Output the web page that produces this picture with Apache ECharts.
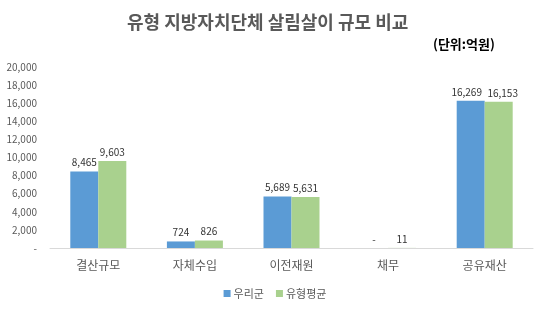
<!DOCTYPE html>
<html><head><meta charset="utf-8">
<script src="https://cdn.jsdelivr.net/npm/echarts@6/dist/echarts.min.js"></script>
<style>html,body{margin:0;padding:0;background:#fff}#c{width:550px;height:311px}</style>
</head><body><div id="c"></div>
<script>
const categories = ['결산규모', '자체수입', '이전재원', '채무', '공유재산'];
const ourCounty = [8465, 724, 5689, 0, 16269];
const typeAverage = [9603, 826, 5631, 11, 16153];
const seriesNames = ['우리군', '유형평균'];
const yTicks = { min: 0, max: 20000, interval: 2000 };

const font = '"Noto Sans CJK KR", "Noto Sans", sans-serif';
const fmt = v => v === 0 ? '-' : v.toLocaleString('en-US');

function withOffsets(values, lastShift) {
  return values.map((v, i) => ({
    value: v,
    label: { offset: [i === values.length - 1 ? lastShift : 0, 0] }
  }));
}

const chart = echarts.init(document.getElementById('c'));
chart.setOption({
  animation: false,
  textStyle: { fontFamily: font },
  title: [
    { text: '유형 지방자치단체 살림살이 규모 비교', left: 122, top: 8,
      textStyle: { fontSize: 18, fontWeight: 'bold', color: '#595959', fontFamily: font } },
    { text: '(단위:억원)', left: 428, top: 33,
      textStyle: { fontSize: 13, fontWeight: 'bold', color: '#000', fontFamily: font } }
  ],
  legend: {
    bottom: 7, left: 'center', itemWidth: 7, itemHeight: 7, itemGap: 12,
    icon: 'rect',
    textStyle: { fontSize: 11, color: '#595959', fontFamily: font, padding: [0, 0, 0, -2] },
    data: seriesNames
  },
  grid: { left: 50, right: 17, top: 67, bottom: 63, containLabel: false },
  xAxis: {
    type: 'category', data: categories,
    axisLine: { lineStyle: { color: '#D9D9D9', width: 1 } },
    axisTick: { show: false },
    axisLabel: { fontSize: 12, color: '#595959', margin: 11, fontFamily: font }
  },
  yAxis: {
    type: 'value', min: yTicks.min, max: yTicks.max, interval: yTicks.interval,
    axisLine: { show: false }, axisTick: { show: false },
    splitLine: { show: false },
    axisLabel: { fontSize: 10, color: '#595959', margin: 13, formatter: fmt, fontFamily: font }
  },
  series: [
    { name: seriesNames[0], type: 'bar', data: withOffsets(ourCounty, -4), barWidth: 28, barGap: '0%',
      itemStyle: { color: '#5B9BD5' },
      label: { show: true, position: 'top', distance: 4, fontSize: 10, color: '#333', formatter: p => fmt(p.value) } },
    { name: seriesNames[1], type: 'bar', data: withOffsets(typeAverage, 4), barWidth: 28,
      itemStyle: { color: '#A9D18E' },
      label: { show: true, position: 'top', distance: 4, fontSize: 10, color: '#333', formatter: p => fmt(p.value) } }
  ]
});
</script></body></html>
